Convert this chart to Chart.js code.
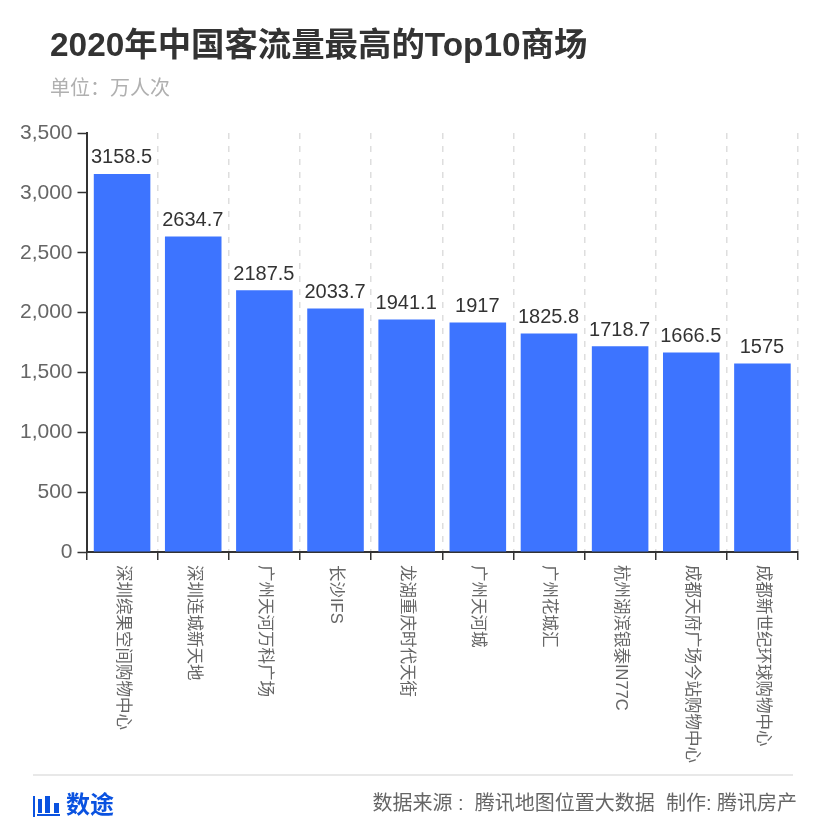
<!DOCTYPE html>
<html lang="zh-CN">
<head>
<meta charset="UTF-8">
<title>2020年中国客流量最高的Top10商场</title>
<script src="https://cdn.jsdelivr.net/npm/chart.js"></script>
<style>
  html, body { margin: 0; padding: 0; background: #fff; }
  body { width: 830px; height: 830px; position: relative; overflow: hidden;
         font-family: "Liberation Sans", "Noto Sans CJK SC", sans-serif; }
  #wrap { position: absolute; left: 0; top: 0; width: 830px; height: 830px; }
  .txt { position: absolute; white-space: nowrap; }
  #title { left: 50px; top: 25px; font-size: 33.4px; line-height: 40px; font-weight: bold; color: #333; }
  #unit { left: 50px; top: 76px; font-size: 20px; line-height: 24px; color: #b0b0b0; }
  #rule { position: absolute; left: 33px; top: 774px; width: 760px; height: 2px; background: #e8e8e8; }
  #brand { left: 66px; top: 790px; font-size: 24px; line-height: 30px; font-weight: bold; color: #0a52e0; }
  #source { right: 33px; top: 790px; font-size: 20px; line-height: 26px; color: #666; }
  #logo { position: absolute; left: 33px; top: 795px; }
</style>
</head>
<body>
<div id="wrap"><canvas id="chart" width="830" height="830"></canvas></div>
<div class="txt" id="title">2020年中国客流量最高的Top10商场</div>
<div class="txt" id="unit">单位：万人次</div>
<div id="rule"></div>
<svg id="logo" width="28" height="24" viewBox="0 0 28 24">
  <rect x="0" y="1" width="2" height="21" fill="#0a52e0"/>
  <rect x="4" y="19" width="23" height="2" fill="#0a52e0"/>
  <rect x="5" y="4" width="4" height="14" fill="#0a52e0"/>
  <rect x="12" y="1" width="5" height="17" fill="#0a52e0"/>
  <rect x="21" y="8" width="5" height="10" fill="#0a52e0"/>
</svg>
<div class="txt" id="brand">数途</div>
<div class="txt" id="source">数据来源&nbsp;:&nbsp; 腾讯地图位置大数据&nbsp; 制作: 腾讯房产</div>

<script>
const malls = ['深圳缤果空间购物中心', '深圳连城新天地', '广州天河万科广场', '长沙IFS', '龙湖重庆时代天街',
               '广州天河城', '广州花城汇', '杭州湖滨银泰IN77C', '成都天府广场今站购物中心', '成都新世纪环球购物中心'];
const visitors = [3158.5, 2634.7, 2187.5, 2033.7, 1941.1, 1917, 1825.8, 1718.7, 1666.5, 1575];
const yTicks = [0, 500, 1000, 1500, 2000, 2500, 3000, 3500];

const font = '"Liberation Sans", "Noto Sans CJK SC", sans-serif';

// value labels above the bars and x labels turned clockwise, chart.js only rotates the other way
const labelPlugin = {
    id: 'labels',
    afterDatasetsDraw(chart) {
        const ctx = chart.ctx;
        const meta = chart.getDatasetMeta(0);
        ctx.save();
        ctx.fillStyle = '#333';
        ctx.font = '20px ' + font;
        ctx.textAlign = 'center';
        ctx.textBaseline = 'bottom';
        meta.data.forEach((bar, i) => {
            ctx.fillText(String(visitors[i]), bar.x - 0.5, bar.y - 6);
        });
        ctx.restore();

        const xs = chart.scales.x;
        ctx.save();
        ctx.fillStyle = '#666';
        ctx.font = '16.5px ' + font;
        ctx.textAlign = 'left';
        ctx.textBaseline = 'middle';
        malls.forEach((name, i) => {
            ctx.save();
            ctx.translate(xs.getPixelForTick(i), 565);
            ctx.rotate(Math.PI / 2);
            ctx.fillText(name, 0, 0);
            ctx.restore();
        });
        ctx.restore();
    }
};

new Chart(document.getElementById('chart'), {
    type: 'bar',
    data: {
        labels: malls,
        datasets: [{
            data: visitors,
            backgroundColor: '#3d74ff',
            borderWidth: 0,
            barPercentage: 0.795,
            categoryPercentage: 1
        }]
    },
    options: {
        responsive: false,
        animation: false,
        layout: { padding: { top: 133, right: 32, bottom: 0, left: 0 } },
        plugins: { legend: { display: false }, tooltip: { enabled: false } },
        scales: {
            x: {
                afterFit(scale) { scale.height = 278; },
                grid: {
                    offset: true,
                    color: '#dedede',
                    lineWidth: 1.5,
                    tickColor: '#333',
                    tickLength: 8,
                    tickWidth: 1.5,
                    tickBorderDash: []
                },
                border: { color: '#333', width: 2, dash: [6, 7] },
                ticks: { display: false }
            },
            y: {
                min: 0,
                max: 3500,
                afterFit(scale) { scale.width = 86.5; },
                afterBuildTicks(scale) { scale.ticks = yTicks.map(v => ({ value: v })); },
                grid: { drawOnChartArea: false, tickColor: '#333', tickLength: 9, tickWidth: 1.5 },
                border: { color: '#333', width: 2 },
                ticks: {
                    color: '#666',
                    font: { family: font, size: 21 },
                    padding: 5,
                    callback: v => v.toLocaleString('en-US')
                }
            }
        }
    },
    plugins: [labelPlugin]
});
</script>
</body>
</html>
